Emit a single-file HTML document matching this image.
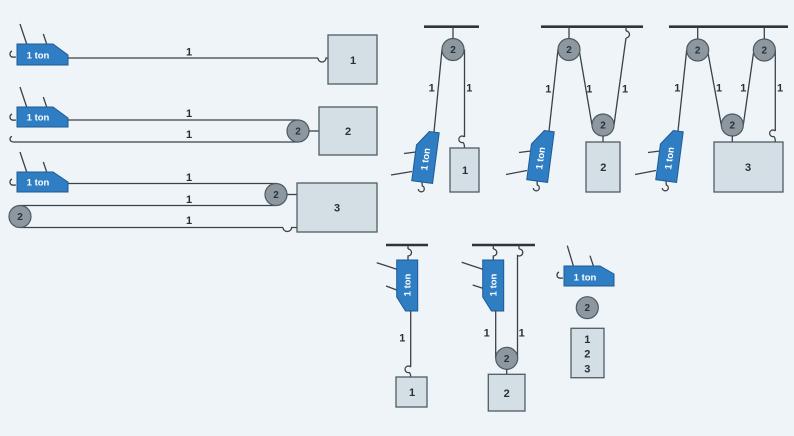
<!DOCTYPE html>
<html><head><meta charset="utf-8"><style>
html,body{margin:0;padding:0;background:#eef4f7;}
svg{display:block;}
.r{stroke:#3b4147;stroke-width:1.3;fill:none;}
.bar{stroke:#2f3438;stroke-width:2.6;}
.hoist{fill:#2f7ec4;stroke:#1e5b94;stroke-width:1;}
.sh{fill:#8c979f;stroke:#4e5962;stroke-width:1.2;}
.bx{fill:#d3dee5;stroke:#515c64;stroke-width:1.3;}
.t{font-family:"Liberation Sans",sans-serif;font-weight:bold;fill:#2b3036;font-size:11px;text-anchor:middle;}
.ts{font-family:"Liberation Sans",sans-serif;font-weight:bold;fill:#2b3036;font-size:10px;text-anchor:middle;}
.ht{font-family:"Liberation Sans",sans-serif;font-weight:bold;fill:#ffffff;font-size:9.5px;text-anchor:middle;}
</style></head><body>
<svg width="794" height="436" viewBox="0 0 794 436" xmlns="http://www.w3.org/2000/svg">
<rect width="794" height="436" fill="#eef4f7"/>

<!-- ===== Diagram 1 (horizontal) ===== -->
<line class="r" x1="26.7" y1="44" x2="20" y2="24"/>
<line class="r" x1="46.7" y1="44" x2="43.3" y2="34"/>
<path class="r" d="M16 57 q-6 1 -6 -3 q0 -2 2 -3"/>
<polygon class="hoist" points="17,44 53,44 68,55 68,65 17,65"/>
<text class="ht" x="38" y="58.5">1 ton</text>
<line class="r" x1="68" y1="58" x2="318" y2="58"/>
<path class="r" d="M318 58 a4 4 0 0 0 8 0 l2 0"/>
<rect class="bx" x="328" y="35" width="49" height="49"/>
<text class="t" x="353" y="64">1</text>
<text class="t" x="189" y="55.5">1</text>

<!-- ===== Diagram 2 ===== -->
<line class="r" x1="26.7" y1="107" x2="20" y2="87"/>
<line class="r" x1="46.7" y1="107" x2="43.3" y2="97"/>
<path class="r" d="M16 120 q-6 1 -6 -3 q0 -2 2 -3"/>
<polygon class="hoist" points="17,107 53,107 68,118 68,127 17,127"/>
<text class="ht" x="38" y="120.5">1 ton</text>
<line class="r" x1="68" y1="120" x2="298" y2="120"/>
<line class="r" x1="14" y1="142" x2="298" y2="142"/>
<path class="r" d="M14 142 q-4 0 -4 -3 q0 -2 2 -2.5"/>
<circle class="sh" cx="298" cy="131" r="11"/>
<text class="ts" x="298" y="134.5">2</text>
<line class="r" x1="309" y1="131" x2="319" y2="131"/>
<rect class="bx" x="319" y="107" width="58" height="48"/>
<text class="t" x="348" y="135">2</text>
<text class="t" x="189" y="117">1</text>
<text class="t" x="189" y="138">1</text>

<!-- ===== Diagram 3 ===== -->
<line class="r" x1="26.7" y1="172" x2="20" y2="152"/>
<line class="r" x1="46.7" y1="172" x2="43.3" y2="162"/>
<path class="r" d="M16 185 q-6 1 -6 -3 q0 -2 2 -3"/>
<polygon class="hoist" points="17,172 53,172 68,182 68,192 17,192"/>
<text class="ht" x="38" y="185.5">1 ton</text>
<line class="r" x1="68" y1="183.5" x2="276" y2="183.5"/>
<line class="r" x1="20" y1="205.5" x2="276" y2="205.5"/>
<line class="r" x1="20" y1="227.5" x2="283" y2="227.5"/>
<path class="r" d="M283 227.5 a4.3 4 0 0 0 8.6 0 l5.4 0"/>
<circle class="sh" cx="20" cy="216.5" r="11"/>
<text class="ts" x="20" y="220">2</text>
<circle class="sh" cx="276" cy="194.5" r="11"/>
<text class="ts" x="276" y="198">2</text>
<line class="r" x1="287" y1="194.5" x2="297" y2="194.5"/>
<rect class="bx" x="297" y="183" width="80" height="49"/>
<text class="t" x="337" y="211.5">3</text>
<text class="t" x="189" y="181">1</text>
<text class="t" x="189" y="203">1</text>
<text class="t" x="189" y="224">1</text>

<!-- ===== Diagram A ===== -->
<line class="bar" x1="424" y1="26.7" x2="479" y2="26.7"/>
<line class="r" x1="453" y1="27" x2="453" y2="39"/>
<line class="r" x1="442" y1="49.5" x2="434" y2="132"/>
<line class="r" x1="464.5" y1="49.5" x2="464.5" y2="137"/>
<path class="r" d="M464.5 137 a3.3 3.3 0 1 0 -1.5 5.5 q1.5 1 1.5 5.5"/>
<circle class="sh" cx="453" cy="49.5" r="11"/>
<text class="ts" x="453" y="53">2</text>
<rect class="bx" x="450" y="148" width="29" height="44"/>
<text class="t" x="465" y="174">1</text>
<text class="t" x="431.7" y="91.7">1</text>
<text class="t" x="469.3" y="91.7">1</text>
<line class="r" x1="404" y1="153.5" x2="416" y2="152"/>
<line class="r" x1="391" y1="175" x2="412" y2="171.5"/>
<path class="r" d="M422 182 l0.3 4 a3 3 0 1 1 -4 3"/>
<g transform="translate(418.4,130.1) rotate(7.5)">
<polygon class="hoist" points="0,15 11,0 21,0 21,51 0,51"/>
<text class="ht" transform="translate(14,28) rotate(-90)" x="0" y="0">1 ton</text>
</g>

<!-- ===== Diagram B ===== -->
<line class="bar" x1="541" y1="26.7" x2="643" y2="26.7"/>
<line class="r" x1="569" y1="27" x2="569" y2="39"/>
<line class="r" x1="626" y1="27" x2="626" y2="31"/>
<path class="r" d="M626 31 a3.5 3.5 0 1 1 0 7"/>
<line class="r" x1="558" y1="49.5" x2="549" y2="131"/>
<line class="r" x1="579.5" y1="52" x2="592" y2="125"/>
<line class="r" x1="614" y1="125" x2="626" y2="38"/>
<circle class="sh" cx="569" cy="49.5" r="11"/>
<text class="ts" x="569" y="53">2</text>
<circle class="sh" cx="603" cy="125" r="11"/>
<text class="ts" x="603" y="128.5">2</text>
<line class="r" x1="603" y1="136" x2="603" y2="142"/>
<rect class="bx" x="586" y="142" width="34" height="50"/>
<text class="t" x="603.3" y="171">2</text>
<text class="t" x="548.3" y="92.3">1</text>
<text class="t" x="589.3" y="92.3">1</text>
<text class="t" x="625" y="92.3">1</text>
<line class="r" x1="519" y1="152.5" x2="531" y2="151"/>
<line class="r" x1="506" y1="174.5" x2="527" y2="170.5"/>
<path class="r" d="M537 181 l0.3 4 a3 3 0 1 1 -4 3"/>
<g transform="translate(533.4,129.1) rotate(7.5)">
<polygon class="hoist" points="0,15 11,0 21,0 21,51 0,51"/>
<text class="ht" transform="translate(14,28) rotate(-90)" x="0" y="0">1 ton</text>
</g>

<!-- ===== Diagram C ===== -->
<line class="bar" x1="669" y1="26.7" x2="788" y2="26.7"/>
<line class="r" x1="697.7" y1="27" x2="697.7" y2="39"/>
<line class="r" x1="764.3" y1="27" x2="764.3" y2="39"/>
<line class="r" x1="686.7" y1="50" x2="678" y2="131"/>
<line class="r" x1="708" y1="53" x2="721.3" y2="125"/>
<line class="r" x1="743.3" y1="125" x2="753.5" y2="53"/>
<line class="r" x1="775.3" y1="50" x2="775.3" y2="131"/>
<path class="r" d="M775.3 131 a3.3 3.3 0 1 0 -1.5 5.5 q1.5 1 1.5 5.5"/>
<circle class="sh" cx="697.7" cy="50" r="11"/>
<text class="ts" x="697.7" y="53.5">2</text>
<circle class="sh" cx="764.3" cy="50" r="11"/>
<text class="ts" x="764.3" y="53.5">2</text>
<circle class="sh" cx="732.3" cy="125" r="11"/>
<text class="ts" x="732.3" y="128.5">2</text>
<line class="r" x1="732.3" y1="136" x2="732.3" y2="142"/>
<rect class="bx" x="714" y="142" width="69" height="50"/>
<text class="t" x="748" y="171">3</text>
<text class="t" x="677.3" y="91.7">1</text>
<text class="t" x="719" y="91.7">1</text>
<text class="t" x="743.3" y="91.7">1</text>
<text class="t" x="780" y="91.7">1</text>
<line class="r" x1="648" y1="152.5" x2="660" y2="151"/>
<line class="r" x1="635" y1="174.5" x2="656" y2="170.5"/>
<path class="r" d="M666 181 l0.3 4 a3 3 0 1 1 -4 3"/>
<g transform="translate(662.4,129.1) rotate(7.5)">
<polygon class="hoist" points="0,15 11,0 21,0 21,51 0,51"/>
<text class="ht" transform="translate(14,28) rotate(-90)" x="0" y="0">1 ton</text>
</g>

<!-- ===== Diagram D ===== -->
<line class="bar" x1="386" y1="245" x2="428" y2="245"/>
<line class="r" x1="408" y1="245" x2="408" y2="249"/>
<path class="r" d="M408 249 a3.5 3.5 0 1 1 0 7 l0 4"/>
<line class="r" x1="376.7" y1="262.7" x2="396.7" y2="269.3"/>
<line class="r" x1="386" y1="286" x2="396.7" y2="290"/>
<polygon class="hoist" points="396.7,260 417.7,260 417.7,311 405.5,311 396.7,297"/>
<text class="ht" transform="translate(410.5,285) rotate(-90)" x="0" y="0">1 ton</text>
<line class="r" x1="410.7" y1="311" x2="410.7" y2="367"/>
<path class="r" d="M410.7 367 a3.3 3.3 0 1 0 -1.5 5.5 q1.5 1 1.5 5"/>
<rect class="bx" x="396" y="377" width="31" height="30"/>
<text class="t" x="412" y="396">1</text>
<text class="t" x="402.3" y="341.3">1</text>

<!-- ===== Diagram E ===== -->
<line class="bar" x1="472" y1="245" x2="535" y2="245"/>
<line class="r" x1="493.3" y1="245" x2="493.3" y2="249"/>
<path class="r" d="M493.3 249 a3.5 3.5 0 1 1 0 7 l0 4"/>
<line class="r" x1="519" y1="245" x2="519" y2="249"/>
<path class="r" d="M519 249 a3.5 3.5 0 1 1 -1.5 6.5 l0 3"/>
<line class="r" x1="461.7" y1="262.3" x2="482.7" y2="269.3"/>
<line class="r" x1="472.7" y1="285" x2="482.7" y2="288.3"/>
<polygon class="hoist" points="482.7,260 503.7,260 503.7,311 491.5,311 482.7,297"/>
<text class="ht" transform="translate(496.5,285) rotate(-90)" x="0" y="0">1 ton</text>
<line class="r" x1="495.7" y1="311" x2="495.7" y2="358"/>
<line class="r" x1="517.5" y1="258" x2="517.5" y2="358"/>
<circle class="sh" cx="506.7" cy="358.3" r="11"/>
<text class="ts" x="506.7" y="361.8">2</text>
<line class="r" x1="506.7" y1="369" x2="506.7" y2="374.3"/>
<rect class="bx" x="488.3" y="374.3" width="36.7" height="36.7"/>
<text class="t" x="506.7" y="397">2</text>
<text class="t" x="486.7" y="336.3">1</text>
<text class="t" x="521.7" y="336.3">1</text>

<!-- ===== Legend ===== -->
<line class="r" x1="573.3" y1="265.7" x2="567.3" y2="245.7"/>
<line class="r" x1="593.3" y1="265.7" x2="590" y2="255.7"/>
<path class="r" d="M563 278 q-6 1 -6 -3 q0 -2 2 -3"/>
<polygon class="hoist" points="564,266 600,266 614,274 614,286 564,286"/>
<text class="ht" x="585" y="280.5">1 ton</text>
<circle class="sh" cx="587.3" cy="307.7" r="11"/>
<text class="ts" x="587.3" y="311.2">2</text>
<rect class="bx" x="571" y="328.3" width="33" height="49.4"/>
<text class="t" x="587.3" y="343">1</text>
<text class="t" x="587.3" y="357.3">2</text>
<text class="t" x="587.3" y="372.3">3</text>
</svg>
</body></html>
